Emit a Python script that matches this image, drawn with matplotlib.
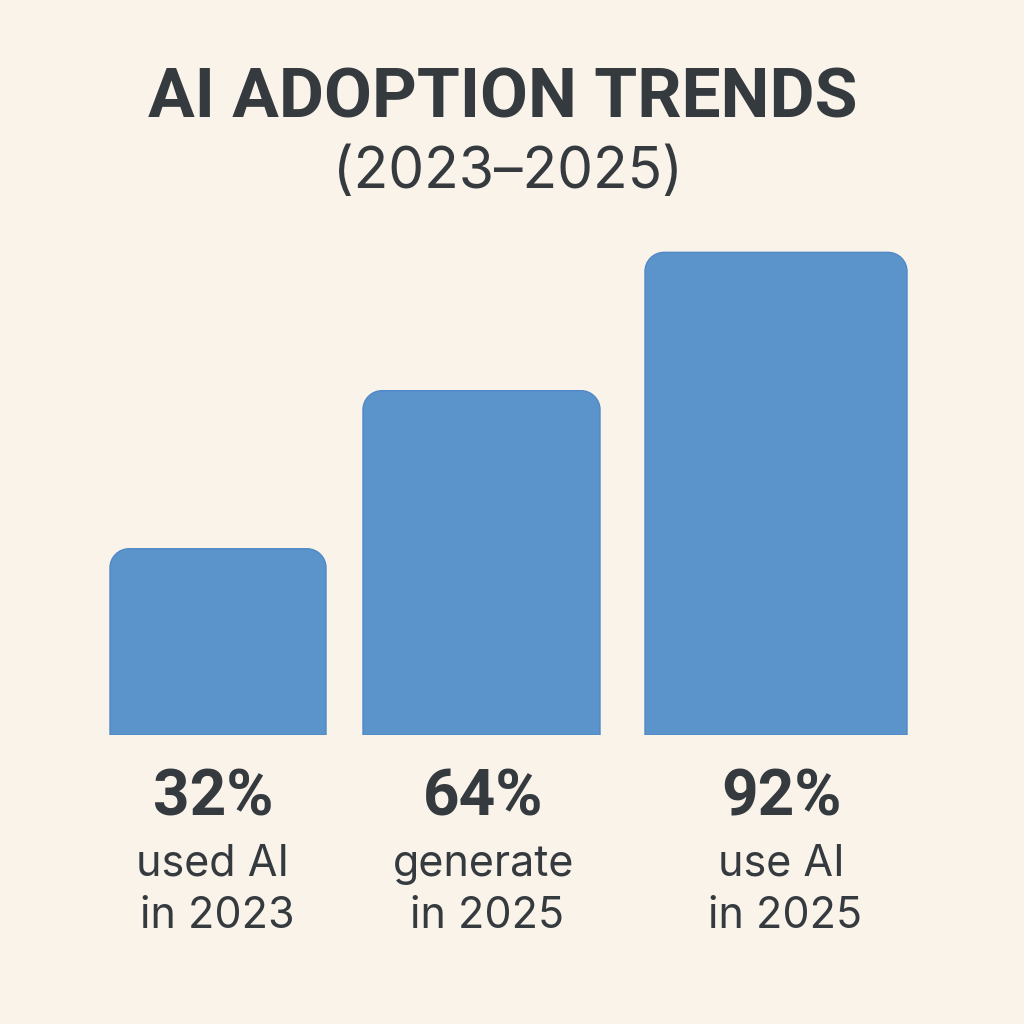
import matplotlib
matplotlib.use("Agg")
import matplotlib.pyplot as plt
from matplotlib.path import Path
from matplotlib.patches import PathPatch

title = "AI ADOPTION TRENDS"
subtitle = "(2023\u20132025)"
values = [32, 64, 92]
value_labels = ["32%", "64%", "92%"]
descriptions = ["used AI\nin 2023", "generate\nin 2025", "use AI\nin 2025"]

BG = "#f9f3ea"
BAR = "#5b93cb"
EDGE = "#4f89c6"
TXT = "#353a3f"
FONT = "Inter"
FONT_B = "Roboto"

W = H = 1024
fig = plt.figure(figsize=(10.24, 10.24), dpi=100, facecolor=BG)

# layout (pixels)
base_px = 735
centers = [218, 481.5, 776]
widths = [216, 237, 262]
offset = 5.7      # visual baseline offset
px_per_unit = 4.94
radius_px = 19

ax = fig.add_axes([0, (H - base_px) / H, 1, base_px / H])
ax.set_facecolor("none")
ax.set_xlim(0, W)
ax.set_ylim(-offset, -offset + base_px / px_per_unit)
ax.axis("off")

bars = ax.bar(centers, [v + offset for v in values], width=widths,
              bottom=-offset, color=BAR, visible=False)

rx = radius_px
ry = radius_px / px_per_unit
k = 0.5523
for r in bars:
    x0, y0 = r.get_x(), r.get_y()
    x1, y1 = x0 + r.get_width(), y0 + r.get_height()
    verts = [
        (x0, y0), (x0, y1 - ry),
        (x0, y1 - ry + k * ry), (x0 + rx - k * rx, y1), (x0 + rx, y1),
        (x1 - rx, y1),
        (x1 - rx + k * rx, y1), (x1, y1 - ry + k * ry), (x1, y1 - ry),
        (x1, y0), (x0, y0),
    ]
    codes = [Path.MOVETO, Path.LINETO,
             Path.CURVE4, Path.CURVE4, Path.CURVE4,
             Path.LINETO,
             Path.CURVE4, Path.CURVE4, Path.CURVE4,
             Path.LINETO, Path.CLOSEPOLY]
    ax.add_patch(PathPatch(Path(verts, codes), facecolor=BAR,
                           edgecolor=EDGE, linewidth=1.0))

def fy(px):
    return 1 - px / H

fig.text(503 / W, fy(117), title, ha="center", va="baseline",
         fontsize=50, fontweight="bold", color=TXT, family=FONT_B)
fig.text(508 / W, fy(188), subtitle, ha="center", va="baseline",
         fontsize=41, color=TXT, family=FONT)

label_dx = [-5, 2, 5]
for c, dx, lab, desc in zip(centers, label_dx, value_labels, descriptions):
    fig.text((c + dx) / W, fy(815), lab, ha="center", va="baseline",
             fontsize=46, fontweight="bold", color=TXT, family=FONT_B)
    l1, l2 = desc.split("\n")
    fig.text((c + dx) / W, fy(876), l1, ha="center", va="baseline",
             fontsize=31, color=TXT, family=FONT)
    fig.text((c + dx + 4) / W, fy(928), l2, ha="center", va="baseline",
             fontsize=31, color=TXT, family=FONT)

fig.savefig("out.png", dpi=100, facecolor=BG)
